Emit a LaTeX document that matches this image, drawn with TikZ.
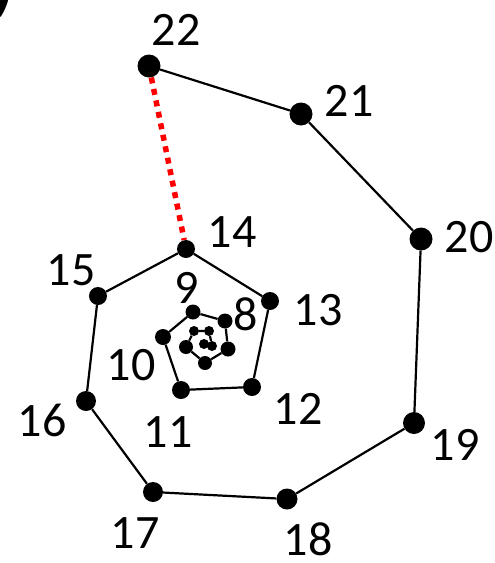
\documentclass[tikz,border=0pt]{standalone}
\usepackage{fontspec}
\setmainfont{Carlito}
\usepackage{tikz}

\begin{document}
\begin{tikzpicture}[
    x=1pt,y=-1pt,
    dot/.style={circle,fill=black,inner sep=0pt,minimum size=#1},
    num/.style={inner sep=0pt,font=\fontsize{48}{50}\selectfont},
    path/.style={draw=black,line width=2.2pt},
    gap/.style={draw=red,line width=5.5pt,dash pattern=on 6pt off 5.7pt},
]
    \useasboundingbox (0,0) rectangle (495,563);
    \begin{scope}
    \clip (0,0) rectangle (495,563);
    \node[num,font=\fontsize{72}{74}\selectfont\bfseries,anchor=base west] (panel) at (-8,6) {)};
    \end{scope}
    % outer turn
    \node[dot=23pt] (p22) at (149,66) {};
    \node[dot=23pt] (p21) at (301,114) {};
    \node[dot=23pt] (p20) at (421,239) {};
    \node[dot=22pt] (p19) at (414,423) {};
    \node[dot=21pt] (p18) at (287,499) {};
    \node[dot=20pt] (p17) at (153,492) {};
    \node[dot=20pt] (p16) at (86,401) {};
    \node[dot=18pt] (p15) at (98,296) {};
    \node[dot=18pt] (p14) at (186,249) {};
    % middle turn
    \node[dot=18pt] (p13) at (270,301) {};
    \node[dot=18pt] (p12) at (252,387) {};
    \node[dot=18pt] (p11) at (181,390) {};
    \node[dot=16pt] (p10) at (163,337) {};
    \node[dot=15pt] (p9) at (193,312) {};
    \node[dot=15pt] (p8) at (225,321) {};
    % inner turn
    \node[dot=15pt] (p7) at (228,349) {};
    \node[dot=14pt] (p6) at (205,363) {};
    \node[dot=14pt] (p5) at (186,347) {};
    \node[dot=10pt] (p4) at (194,331) {};
    \node[dot=10pt] (p3) at (209,331) {};
    \node[dot=10pt] (p2) at (212,346) {};
    \node[dot=10pt] (p1) at (204,344) {};
    \draw[path] (p22) -- (p21) -- (p20) -- (p19) -- (p18) -- (p17) -- (p16) -- (p15) -- (p14)
        -- (p13) -- (p12) -- (p11) -- (p10) -- (p9) -- (p8) -- (p7) -- (p6) -- (p5)
        -- (p4) -- (p3) -- (p2) -- (p1);
    \draw[gap] (p22) -- (p14);
    % labels
    \node[num] (l22) at (176,30) {22};
    \node[num] (l21) at (349,101) {21};
    \node[num] (l20) at (469,237) {20};
    \node[num] (l19) at (455,445) {19};
    \node[num] (l18) at (308,539) {18};
    \node[num] (l17) at (135,533) {17};
    \node[num] (l16) at (42,420) {16};
    \node[num] (l15) at (71,270) {15};
    \node[num] (l14) at (232,232) {14};
    \node[num] (l13) at (318,310) {13};
    \node[num] (l12) at (298,409) {12};
    \node[num] (l11) at (168,432) {11};
    \node[num] (l10) at (131,365) {10};
    \node[num] (l9) at (187,288) {9};
    \node[num] (l8) at (246,314) {8};
\end{tikzpicture}
\end{document}
